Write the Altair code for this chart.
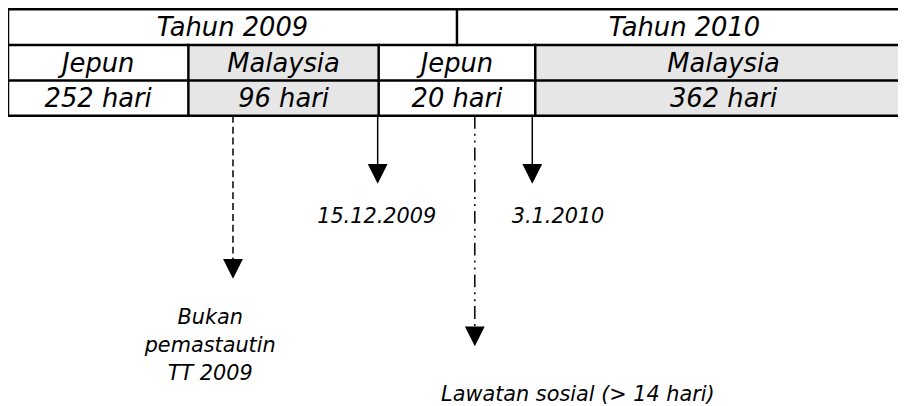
import altair as alt
import pandas as pd

# ---- content ----
years = ["Tahun 2009", "Tahun 2010"]
countries = ["Jepun", "Malaysia", "Jepun", "Malaysia"]
durations = ["252 hari", "96 hari", "20 hari", "362 hari"]
shaded = [False, True, False, True]
dates = ["15.12.2009", "3.1.2010"]
notes = ["Bukan\npemastautin\nTT 2009", "Lawatan sosial (> 14 hari)"]
arrow_styles = ["dashed", "solid", "dashdot", "solid"]

# ---- layout (page pixels) ----
year_edges = [8, 461, 920]
col_edges = [8, 190, 382, 540, 920]
row_edges = [7.5, 43.5, 79.3, 115]
base_off = 26.8
arrow_x = [235, 381, 479, 537]
arrow_tip = [277, 181, 345, 181]
date_x = [380, 563]
date_y = [223, 223]
note_x = [212, 583]
note_y = [325, 403]

FONT = "DejaVu Sans"
xs = alt.Scale(domain=[8, 906], nice=False, zero=False)
ys = alt.Scale(domain=[8, 406], nice=False, zero=False, reverse=True)

# cells
year_df = pd.DataFrame({
    "label": years,
    "x": [(a + b) / 2 for a, b in zip(year_edges[:-1], year_edges[1:])],
    "y": row_edges[0] + base_off,
})
cell_rows = []
for i, (c, d, s) in enumerate(zip(countries, durations, shaded)):
    x0, x1 = col_edges[i], col_edges[i + 1]
    cell_rows.append({"label": c, "x": (x0 + x1) / 2, "y": row_edges[1] + base_off,
                      "x0": x0, "x1": x1, "y0": row_edges[1], "y1": row_edges[3], "shade": s})
    cell_rows.append({"label": d, "x": (x0 + x1) / 2, "y": row_edges[2] + base_off,
                      "x0": x0, "x1": x1, "y0": row_edges[1], "y1": row_edges[3], "shade": s})
cell_df = pd.DataFrame(cell_rows)
shade_df = cell_df[cell_df["shade"]].drop_duplicates(subset=["x0"])

# table lines
h_df = pd.DataFrame({"x": [year_edges[0]] * 4, "x2": [year_edges[-1]] * 4, "y": row_edges})
v_rows = [{"x": year_edges[0], "y": row_edges[0], "y2": row_edges[3]},
          {"x": year_edges[1], "y": row_edges[0], "y2": row_edges[1]}]
for xe in col_edges[1:-1]:
    v_rows.append({"x": xe, "y": row_edges[1], "y2": row_edges[3]})
v_df = pd.DataFrame(v_rows)

# arrows
head = 15
arr_df = pd.DataFrame({"x": arrow_x, "y": row_edges[3], "y2": [t - head / 2 for t in arrow_tip],
                       "yh": [t - head / 2 for t in arrow_tip], "style": arrow_styles})
date_df = pd.DataFrame({"label": dates, "x": date_x, "y": date_y})
note_df = pd.DataFrame({"label": notes, "x": note_x, "y": note_y})

shade = alt.Chart(shade_df).mark_rect(color="#e6e6e6").encode(
    x=alt.X("x0:Q", scale=xs, axis=None), x2="x1:Q",
    y=alt.Y("y0:Q", scale=ys, axis=None), y2="y1:Q")

hlines = alt.Chart(h_df).mark_rule(color="black", strokeWidth=2.5, strokeCap="square").encode(
    x=alt.X("x:Q", scale=xs, axis=None), x2="x2:Q",
    y=alt.Y("y:Q", scale=ys, axis=None))
vlines = alt.Chart(v_df).mark_rule(color="black", strokeWidth=2.5, strokeCap="square").encode(
    x=alt.X("x:Q", scale=xs, axis=None),
    y=alt.Y("y:Q", scale=ys, axis=None), y2="y2:Q")

def texts(df, size, **kw):
    return alt.Chart(df).mark_text(font=FONT, fontStyle="italic", fontSize=size, color="black",
                                   baseline="alphabetic", align="center", **kw).encode(
        x=alt.X("x:Q", scale=xs, axis=None),
        y=alt.Y("y:Q", scale=ys, axis=None),
        text="label:N")

year_txt = texts(year_df, 26)
cell_txt = texts(cell_df, 26)
date_txt = texts(date_df, 21)
note_txt = texts(note_df, 21, lineBreak="\n", lineHeight=28.5)

shafts = alt.Chart(arr_df).mark_rule(color="black", strokeWidth=1.5).encode(
    x=alt.X("x:Q", scale=xs, axis=None),
    y=alt.Y("y:Q", scale=ys, axis=None), y2="y2:Q",
    strokeDash=alt.StrokeDash("style:N", legend=None, scale=alt.Scale(
        domain=["solid", "dashed", "dashdot"],
        range=[[1, 0], [7, 4], [13, 5, 2, 5, 2, 5]])))
heads = alt.Chart(arr_df).mark_point(shape="M-1,-1L1,-1L0,1Z", size=400,
                                     filled=True, color="black", opacity=1).encode(
    x=alt.X("x:Q", scale=xs, axis=None),
    y=alt.Y("yh:Q", scale=ys, axis=None))

chart = alt.layer(shade, hlines, vlines, year_txt, cell_txt, shafts, heads, date_txt, note_txt).properties(
    width=898, height=398, padding=0, autosize=alt.AutoSizeParams(type="none")
).configure_view(stroke=None)

chart.save("out.html", embed_options={"renderer": "svg", "actions": False})
